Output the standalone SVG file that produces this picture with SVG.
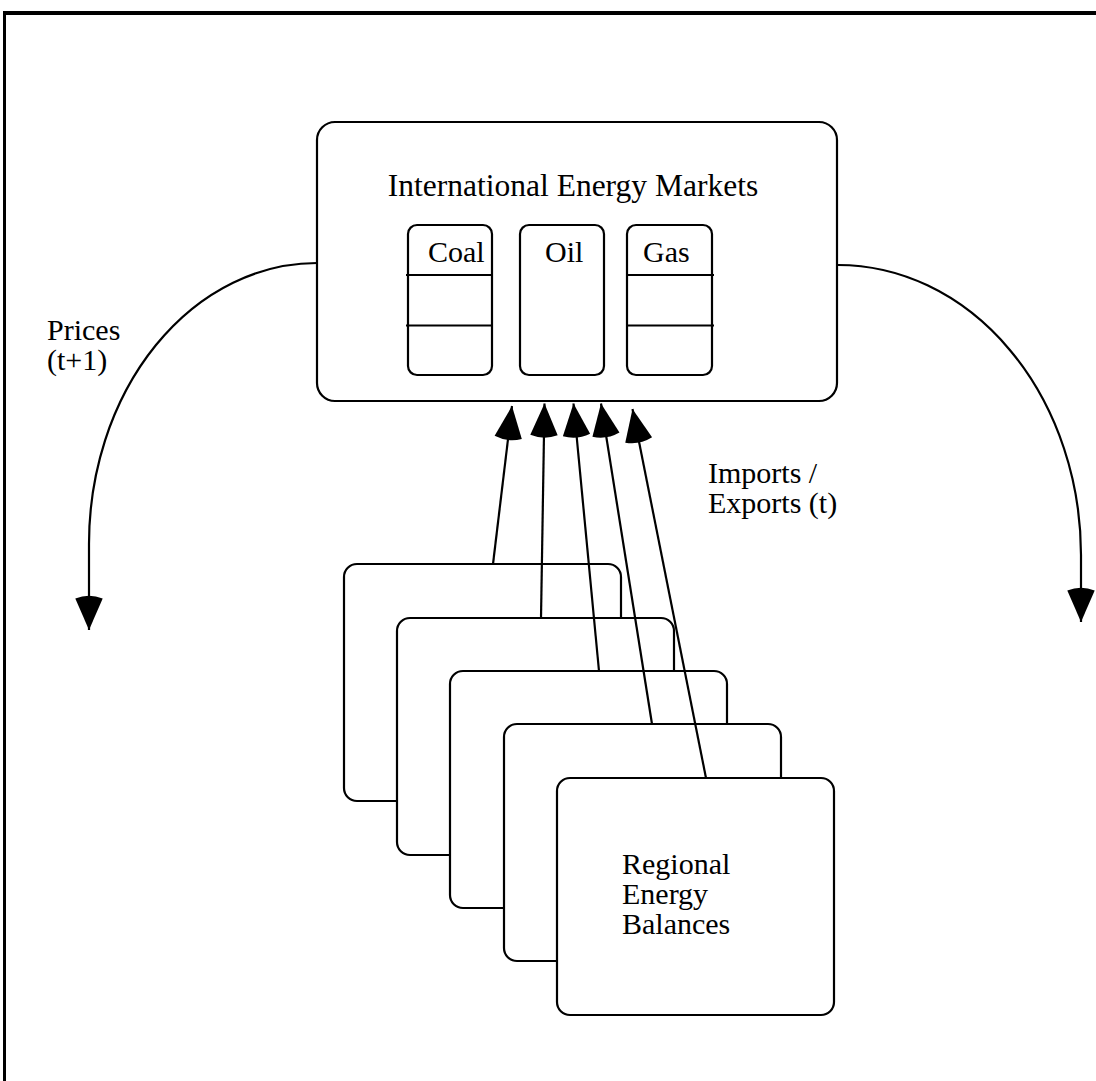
<svg xmlns="http://www.w3.org/2000/svg" width="1096" height="1081" viewBox="0 0 1096 1081">
<style>
text{font-family:"Liberation Serif","Times New Roman",serif;font-size:30px;fill:#000}
.box{fill:#fff;stroke:#000;stroke-width:2.2}
.ln{fill:none;stroke:#000;stroke-width:2.2}
</style>
<defs>
<marker id="ah" markerUnits="userSpaceOnUse" markerWidth="40" markerHeight="40" viewBox="-36 -15 38 30" refX="0" refY="0" orient="auto">
<path d="M0,0 L-30,-13 Q-35,0 -30,13 Z" fill="#000"/>
</marker>
</defs>
<rect width="1096" height="1081" fill="#fff"/>
<g id="frame">
<rect x="3" y="11" width="1093" height="4" fill="#000"/>
<rect x="3" y="11" width="3" height="1070" fill="#000"/>
</g>
<g id="international-markets">
<rect class="box" x="317" y="122" width="520" height="279" rx="18"/>
<text x="573" y="196" text-anchor="middle" style="font-size:31.5px">International Energy Markets</text>
</g>
<g id="coal">
<rect class="box" x="408" y="225" width="84" height="150" rx="9"/>
<line class="ln" x1="406" y1="275" x2="492" y2="275"/>
<line class="ln" x1="406" y1="325.5" x2="492" y2="325.5"/>
<text x="428" y="262">Coal</text>
</g>
<g id="oil">
<rect class="box" x="520" y="225" width="84" height="150" rx="9"/>
<text x="545" y="262">Oil</text>
</g>
<g id="gas">
<rect class="box" x="627" y="225" width="85" height="150" rx="9"/>
<line class="ln" x1="627" y1="275" x2="714" y2="275"/>
<line class="ln" x1="627" y1="325.5" x2="714" y2="325.5"/>
<text x="643" y="262">Gas</text>
</g>
<g id="region-1"><rect class="box" x="344" y="564" width="277" height="237" rx="13"/></g>
<g id="region-2"><rect class="box" x="397" y="618" width="277" height="237" rx="13"/></g>
<g id="region-3"><rect class="box" x="450" y="671" width="277" height="237" rx="13"/></g>
<g id="region-4"><rect class="box" x="504" y="724" width="277" height="237" rx="13"/></g>
<g id="region-5">
<rect class="box" x="557" y="778" width="277" height="237" rx="13"/>
<text x="622" y="874">Regional</text>
<text x="622" y="904">Energy</text>
<text x="622" y="934">Balances</text>
</g>
<g id="connectors">
<path class="ln" d="M317,263 A228,281 0 0 0 89,544 L89,630" marker-end="url(#ah)"/>
<path class="ln" d="M838,265 A243,290 0 0 1 1081,555 L1081,622" marker-end="url(#ah)"/>
<line class="ln" x1="493" y1="564" x2="512" y2="406" marker-end="url(#ah)"/>
<line class="ln" x1="541" y1="618" x2="544.5" y2="403.5" marker-end="url(#ah)"/>
<line class="ln" x1="599" y1="671" x2="573.5" y2="403.5" marker-end="url(#ah)"/>
<line class="ln" x1="652" y1="724" x2="601" y2="403.5" marker-end="url(#ah)"/>
<line class="ln" x1="706" y1="778" x2="632.5" y2="409" marker-end="url(#ah)"/>
</g>
<g id="labels">
<text x="47" y="340">Prices</text>
<text x="47" y="370">(t+1)</text>
<text x="708" y="483">Imports /</text>
<text x="708" y="513">Exports (t)</text>
</g>
</svg>
